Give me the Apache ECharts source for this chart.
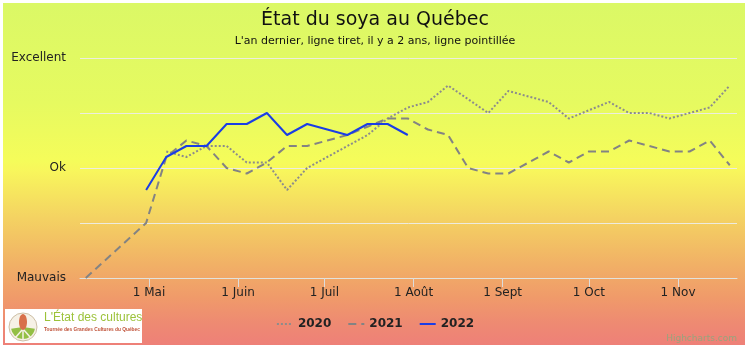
<!DOCTYPE html>
<html>
<head>
<meta charset="utf-8">
<script src="https://cdn.jsdelivr.net/npm/echarts@6/dist/echarts.min.js"></script>
<style>
  html, body { margin: 0; padding: 0; background: #ffffff; }
  #bg {
    position: absolute; left: 3px; top: 3px; width: 742px; height: 342px;
    background: linear-gradient(to bottom,
      #dbf866 0px, #e6fa60 100px, #f5fc5a 158px, #f8f65c 168px,
      #f4d262 215px, #f1b066 262px, #f09a6a 295px, #ee8a72 320px, #ee8078 342px);
  }
  #chart { position: absolute; left: 0; top: 0; width: 750px; height: 350px; }
</style>
</head>
<body>
<div id="bg"></div>
<div id="chart"></div>
<script>
// Crop condition ratings: 0 = Mauvais, 2 = Ok, 4 = Excellent (weekly reports, month-day)
const dates2020 = ['05-07','05-14','05-21','05-28','06-04','06-11','06-18','06-25','07-02','07-09','07-16','07-23','07-30','08-06','08-13','08-27','09-03','09-17','09-24','10-08','10-15','10-22','10-29','11-05','11-12','11-19'];
const values2020 = [2.3, 2.2, 2.4, 2.4, 2.1, 2.1, 1.6, 2.0, 2.2, 2.4, 2.6, 2.9, 3.1, 3.2, 3.5, 3.0, 3.4, 3.2, 2.9, 3.2, 3.0, 3.0, 2.9, 3.0, 3.1, 3.5];

const dates2021 = ['04-09','04-30','05-07','05-14','05-21','05-28','06-04','06-11','06-18','06-25','07-02','07-09','07-16','07-23','07-30','08-06','08-13','08-20','08-27','09-03','09-10','09-17','09-24','10-01','10-08','10-15','10-22','10-29','11-05','11-12','11-19'];
const values2021 = [0.0, 1.0, 2.2, 2.5, 2.4, 2.0, 1.9, 2.1, 2.4, 2.4, 2.5, 2.6, 2.75, 2.9, 2.9, 2.7, 2.6, 2.0, 1.9, 1.9, 2.1, 2.3, 2.1, 2.3, 2.3, 2.5, 2.4, 2.3, 2.3, 2.5, 2.05];

const dates2022 = ['04-30','05-07','05-14','05-21','05-28','06-04','06-11','06-18','06-25','07-02','07-09','07-16','07-23','07-30'];
const values2022 = [1.6, 2.2, 2.4, 2.4, 2.8, 2.8, 3.0, 2.6, 2.8, 2.7, 2.6, 2.8, 2.8, 2.6];

const seriesNames = ['2020', '2021', '2022'];

// Month ticks on the x axis
const monthTickDates = ['05-01','06-01','07-01','08-01','09-01','10-01','11-01'];
const monthTickLabels = ['1 Mai','1 Juin','1 Juil','1 Août','1 Sept','1 Oct','1 Nov'];

// Rating tick labels on the y axis (0..4)
const ratingTickLabels = ['Mauvais', '', 'Ok', '', 'Excellent'];

// Day of year (common non-leap calendar) for a 'MM-DD' string
function dayOfYear(md) {
  const [m, d] = md.split('-').map(Number);
  const t = Date.UTC(2022, m - 1, d) - Date.UTC(2022, 0, 1);
  return t / 86400000;
}
function pairs(dates, values) {
  return dates.map((d, i) => [dayOfYear(d), values[i]]);
}

const monthTickDays = monthTickDates.map(dayOfYear);
const FONT = 'DejaVu Sans';

const chart = echarts.init(document.getElementById('chart'), null, { renderer: 'canvas' });

chart.setOption({
  backgroundColor: 'transparent',
  animation: false,
  textStyle: { fontFamily: FONT },
  title: {
    text: 'État du soya au Québec',
    subtext: "L'an dernier, ligne tiret, il y a 2 ans, ligne pointillée",
    left: 'center',
    top: 6,
    itemGap: 6,
    textStyle: { fontFamily: FONT, fontSize: 19, fontWeight: 'normal', color: '#111' },
    subtextStyle: { fontFamily: FONT, fontSize: 11, color: '#111' }
  },
  legend: {
    data: seriesNames,
    left: 'center',
    top: 313,
    itemWidth: 16,
    itemHeight: 10,
    itemGap: 16,
    // line-only legend keys (no marker dot)
    itemStyle: { opacity: 0 },
    textStyle: { fontFamily: FONT, fontSize: 12, fontWeight: 'bold', color: '#222' }
  },
  grid: { left: 80, right: 13, top: 58, bottom: 72, containLabel: false },
  xAxis: {
    type: 'value',
    min: 96,
    max: 324.5,
    splitLine: { show: false },
    axisLine: { show: true, lineStyle: { color: '#e2e2dc', width: 1 } },
    axisTick: {
      show: true, length: 9, customValues: monthTickDays,
      lineStyle: { color: '#dcdcdc', width: 1 }
    },
    axisLabel: {
      customValues: monthTickDays,
      margin: 9,
      fontFamily: FONT, fontSize: 12, color: '#222',
      formatter: v => {
        const i = monthTickDays.indexOf(v);
        return i >= 0 ? monthTickLabels[i] : '';
      }
    }
  },
  yAxis: {
    type: 'value',
    min: 0,
    max: 4,
    interval: 1,
    axisLine: { show: false },
    axisTick: { show: false },
    splitLine: { lineStyle: { color: 'rgba(236,236,230,0.95)', width: 1 } },
    axisLabel: {
      margin: 14,
      fontFamily: FONT, fontSize: 12, color: '#222',
      formatter: v => ratingTickLabels[Math.round(v)] || ''
    }
  },
  series: [
    {
      name: '2020', type: 'line', data: pairs(dates2020, values2020),
      symbol: 'none', smooth: false,
      lineStyle: { color: '#8c8c8c', width: 2, type: [2, 2] },
      itemStyle: { color: '#8c8c8c' }, z: 2
    },
    {
      name: '2021', type: 'line', data: pairs(dates2021, values2021),
      symbol: 'none', smooth: false,
      lineStyle: { color: '#838383', width: 2, type: [8, 5] },
      itemStyle: { color: '#838383' }, z: 3
    },
    {
      name: '2022', type: 'line', data: pairs(dates2022, values2022),
      symbol: 'none', smooth: false,
      lineStyle: { color: '#1a3de6', width: 2 },
      itemStyle: { color: '#1a3de6' }, z: 4
    }
  ],
  graphic: [
    // Logo card, bottom left
    { type: 'rect', left: 5, top: 309, shape: { width: 137, height: 34 }, style: { fill: '#ffffff' }, z: 10 },
    { type: 'circle', shape: { cx: 23, cy: 327, r: 14 }, style: { fill: '#f6f1e6', stroke: '#cdbfa6', lineWidth: 1 }, z: 11 },
    { type: 'sector', shape: { cx: 23, cy: 327, r: 12, r0: 0, startAngle: 0.15, endAngle: Math.PI - 0.15 }, style: { fill: '#93bf45' }, z: 12 },
    { type: 'line', shape: { x1: 23, y1: 329, x2: 15, y2: 338 }, style: { stroke: '#f6f1e6', lineWidth: 1.5 }, z: 13 },
    { type: 'line', shape: { x1: 23, y1: 329, x2: 31, y2: 338 }, style: { stroke: '#f6f1e6', lineWidth: 1.5 }, z: 13 },
    { type: 'line', shape: { x1: 23, y1: 329, x2: 23, y2: 339 }, style: { stroke: '#f6f1e6', lineWidth: 1.5 }, z: 13 },
    { type: 'ellipse', shape: { cx: 23, cy: 322, rx: 4, ry: 8 }, style: { fill: '#d8704a' }, z: 14 },
    { type: 'text', left: 44, top: 312, style: { text: "L'État des cultures", fontFamily: 'Liberation Sans', fontSize: 12, fill: '#9cc23a' }, z: 12 },
    { type: 'text', left: 44, top: 327, style: { text: 'Tournée des Grandes Cultures du Québec', fontFamily: 'Liberation Sans', fontSize: 4.8, fontWeight: 'bold', fill: '#c0533a' }, z: 12 },
    // Credits, bottom right
    { type: 'text', right: 13, top: 334, style: { text: 'Highcharts.com', fontFamily: FONT, fontSize: 9, fill: '#98a47c' }, z: 12 }
  ]
});
</script>
</body>
</html>
